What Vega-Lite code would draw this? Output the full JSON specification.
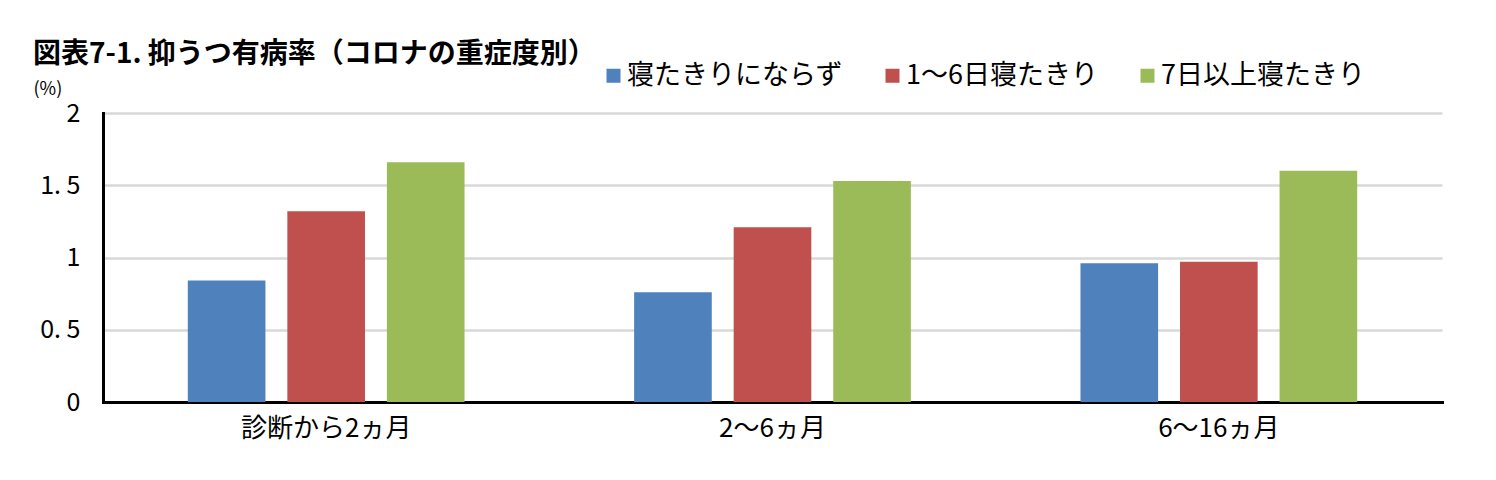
{
  "$schema": "https://vega.github.io/schema/vega-lite/v6.json",
  "autosize": {"type": "none"},
  "width": 1339,
  "height": 289,
  "padding": {"left": 103, "top": 113, "right": 54, "bottom": 78},
  "background": "white",
  "title": {
    "text": "図表7-1. 抑うつ有病率（コロナの重症度別）",
    "anchor": "start",
    "frame": "group",
    "dx": -70,
    "dy": 37,
    "fontSize": 28,
    "fontWeight": "bold",
    "font": "Noto Sans CJK JP",
    "color": "black",
    "offset": 30
  },
  "data": {
    "values": [
      {"period": "診断から2ヵ月", "severity": "寝たきりにならず", "rate": 0.84},
      {"period": "診断から2ヵ月", "severity": "1〜6日寝たきり", "rate": 1.32},
      {"period": "診断から2ヵ月", "severity": "7日以上寝たきり", "rate": 1.66},
      {"period": "2〜6ヵ月", "severity": "寝たきりにならず", "rate": 0.76},
      {"period": "2〜6ヵ月", "severity": "1〜6日寝たきり", "rate": 1.21},
      {"period": "2〜6ヵ月", "severity": "7日以上寝たきり", "rate": 1.53},
      {"period": "6〜16ヵ月", "severity": "寝たきりにならず", "rate": 0.96},
      {"period": "6〜16ヵ月", "severity": "1〜6日寝たきり", "rate": 0.97},
      {"period": "6〜16ヵ月", "severity": "7日以上寝たきり", "rate": 1.60}
    ]
  },
  "mark": {"type": "bar"},
  "encoding": {
    "x": {
      "field": "period",
      "type": "nominal",
      "sort": ["診断から2ヵ月", "2〜6ヵ月", "6〜16ヵ月"],
      "scale": {"paddingInner": 0.38, "paddingOuter": 0.19},
      "axis": {
        "title": null,
        "labelAngle": 0,
        "ticks": false,
        "domainColor": "black",
        "domainWidth": 3,
        "labelPadding": 13,
        "labelFontSize": 26,
        "labelColor": "black",
        "labelFont": "Noto Sans CJK JP",
        "grid": false
      }
    },
    "xOffset": {
      "field": "severity",
      "type": "nominal",
      "sort": ["寝たきりにならず", "1〜6日寝たきり", "7日以上寝たきり"],
      "scale": {"paddingInner": 0.22, "paddingOuter": 0}
    },
    "y": {
      "field": "rate",
      "type": "quantitative",
      "scale": {"domain": [0, 2], "nice": false},
      "axis": {
        "title": "(%)",
        "titleAngle": 0,
        "titleX": -70,
        "titleY": -15,
        "titleAlign": "left",
        "titleBaseline": "bottom",
        "titleFontSize": 18,
        "titleFontWeight": "normal",
        "titleFont": "Noto Sans CJK JP",
        "titleColor": "black",
        "values": [0, 0.5, 1, 1.5, 2],
        "labelExpr": "replace(format(datum.value, '~g'), '.', '. ')",
        "ticks": false,
        "labelPadding": 23,
        "labelFontSize": 25,
        "labelColor": "black",
        "labelFont": "Noto Sans CJK JP",
        "domainColor": "black",
        "domainWidth": 3,
        "gridColor": "#D9D9D9",
        "gridWidth": 2.5
      }
    },
    "color": {
      "field": "severity",
      "type": "nominal",
      "sort": ["寝たきりにならず", "1〜6日寝たきり", "7日以上寝たきり"],
      "scale": {
        "domain": ["寝たきりにならず", "1〜6日寝たきり", "7日以上寝たきり"],
        "range": ["#4F81BD", "#C0504D", "#9BBB59"]
      },
      "legend": {
        "title": null,
        "orient": "none",
        "direction": "horizontal",
        "legendX": 497,
        "legendY": -51,
        "symbolType": "square",
        "symbolSize": 196,
        "symbolStrokeWidth": 0,
        "labelFontSize": 27,
        "labelFont": "Noto Sans CJK JP",
        "labelColor": "black",
        "labelOffset": 0,
        "columnPadding": 36,
        "labelLimit": 400
      }
    }
  },
  "config": {
    "view": {"stroke": null},
    "axis": {"domainCap": "square"}
  }
}
